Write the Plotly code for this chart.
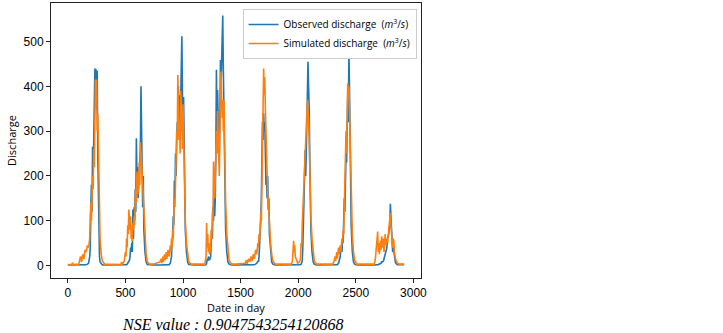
import plotly.graph_objects as go

# (day, observed, simulated)
days = [
    0, 35, 41, 47, 95, 100, 110, 120, 130, 140, 150, 160, 170, 180, 190, 195, 200, 205, 210, 215,
    220, 225, 230, 235, 240, 245, 250, 255, 260, 265, 270, 275, 280, 290, 300, 320,
    380, 460, 467, 472, 490, 500, 505, 510, 515, 520, 525, 530, 535, 540, 545, 550, 555, 560, 565,
    570, 575, 580, 585, 590, 595, 600, 605, 610, 615, 620, 625, 630, 635, 640, 645, 650, 655, 660,
    670, 680, 690, 710,
    740, 800, 810, 815, 825, 830, 840, 845, 855, 860, 870, 880, 890, 895, 900, 905, 910, 915, 920,
    925, 930, 935, 940, 945, 950, 955, 960, 965, 970, 975, 980, 985, 990, 995, 1000, 1005, 1010,
    1015, 1020, 1030, 1040, 1050, 1070,
    1100, 1190, 1200, 1205, 1210, 1215, 1220, 1225, 1230, 1240, 1245, 1250, 1255, 1260, 1265, 1270,
    1275, 1280, 1285, 1290, 1295, 1300, 1305, 1310, 1315, 1320, 1325, 1330, 1335, 1340, 1345, 1350,
    1355, 1360, 1365, 1370, 1380, 1390, 1400, 1420,
    1460, 1540, 1550, 1555, 1570, 1580, 1590, 1600, 1610, 1620, 1630, 1640, 1650, 1655, 1660, 1665,
    1670, 1675, 1680, 1685, 1690, 1695, 1700, 1705, 1710, 1715, 1720, 1725, 1730, 1735, 1740, 1745,
    1750, 1760, 1770, 1780, 1800,
    1830, 1940, 1950, 1960, 1965, 1970, 1975, 1985, 1995, 2010, 2020, 2025, 2030, 2035, 2040, 2045,
    2050, 2055, 2060, 2065, 2070, 2075, 2080, 2085, 2090, 2095, 2100, 2105, 2110, 2120, 2130, 2140,
    2160,
    2180, 2300, 2310, 2320, 2325, 2335, 2340, 2350, 2355, 2365, 2370, 2380, 2385, 2390, 2395, 2400,
    2405, 2410, 2415, 2420, 2425, 2430, 2435, 2440, 2445, 2450, 2455, 2460, 2470, 2480, 2490, 2510,
    2660, 2670, 2680, 2690, 2695, 2700, 2705, 2715, 2720, 2725, 2730, 2740, 2745, 2755, 2760, 2770,
    2775, 2785, 2795, 2800, 2805, 2810, 2815, 2820, 2825, 2830, 2835, 2845, 2860, 2880, 2920,
]

observed = [
    1, 1, 1, 1, 1, 1, 1, 1, 1, 1, 2, 2, 3, 5, 20, 40, 130, 180, 120, 265,
    200, 300, 270, 440, 400, 438, 347, 435, 250, 150, 60, 20, 8, 3, 1, 1,
    1, 1, 1, 1, 1, 2, 2, 2, 3, 5, 6, 10, 12, 20, 40, 30, 50, 30, 125,
    60, 130, 100, 170, 120, 284, 200, 220, 150, 180, 200, 210, 260, 400, 330, 260, 130, 200, 80,
    30, 8, 2, 1,
    1, 1, 1, 1, 1, 1, 1, 1, 1, 1, 2, 2, 5, 10, 20, 50, 60, 110, 90,
    190, 150, 250, 200, 273, 320, 300, 400, 330, 380, 300, 350, 400, 512, 380, 300, 376, 250,
    150, 80, 30, 8, 2, 1,
    1, 1, 2, 5, 15, 10, 20, 15, 12, 20, 40, 80, 60, 130, 100, 170,
    110, 150, 250, 437, 300, 392, 330, 300, 250, 320, 459, 400, 470, 520, 558, 440,
    350, 250, 150, 80, 30, 8, 3, 1,
    1, 1, 1, 1, 1, 1, 1, 1, 1, 2, 3, 5, 10, 8, 20, 40,
    60, 100, 150, 230, 321, 280, 340, 300, 320, 250, 180, 200, 150, 200, 124, 150,
    70, 25, 8, 3, 1,
    1, 1, 1, 1, 1, 1, 1, 1, 1, 1, 2, 3, 5, 10, 40, 80,
    120, 200, 258, 200, 250, 300, 350, 455, 400, 355, 250, 150, 80, 30, 8, 3,
    1,
    1, 1, 1, 1, 1, 2, 2, 5, 10, 20, 40, 30, 60, 50, 100, 150,
    120, 191, 250, 230, 300, 380, 320, 474, 400, 250, 180, 90, 30, 8, 3, 1,
    1, 1, 1, 2, 2, 3, 3, 5, 5, 8, 8, 10, 15, 20, 30, 40,
    60, 70, 90, 138, 110, 80, 40, 30, 40, 30, 15, 6, 2, 2, 2,
]

simulated = [
    2, 2, 6, 2, 3, 10, 20, 8, 25, 15, 35, 30, 45, 40, 60, 110, 140, 100, 150, 200,
    170, 260, 220, 330, 415, 380, 415, 300, 340, 280, 200, 120, 60, 25, 10, 3,
    2, 2, 8, 2, 10, 30, 20, 60, 40, 90, 70, 125, 100, 80, 110, 60, 90, 55, 95,
    80, 110, 90, 150, 170, 140, 210, 190, 160, 200, 230, 180, 275, 250, 230, 200, 170, 150, 110,
    60, 25, 8, 3,
    3, 8, 15, 5, 20, 8, 25, 12, 30, 15, 35, 20, 45, 30, 60, 40, 80, 60, 110,
    150, 130, 200, 250, 300, 280, 425, 350, 280, 320, 250, 390, 300, 340, 260, 360, 300, 200,
    150, 100, 50, 20, 8, 3,
    3, 3, 20, 95, 40, 70, 30, 50, 25, 40, 80, 60, 120, 100, 232, 180,
    150, 200, 260, 300, 250, 345, 290, 250, 200, 300, 350, 433, 370, 330, 370, 300,
    370, 280, 200, 140, 70, 30, 12, 3,
    3, 5, 12, 4, 15, 8, 20, 10, 25, 15, 35, 25, 50, 40, 70, 55,
    90, 117, 100, 180, 250, 300, 440, 380, 420, 350, 300, 220, 180, 160, 150, 120,
    90, 50, 25, 10, 3,
    3, 3, 10, 55, 30, 45, 20, 12, 5, 8, 15, 50, 40, 90, 120, 150,
    160, 200, 230, 270, 300, 330, 370, 340, 330, 280, 220, 160, 110, 60, 25, 10,
    3,
    3, 3, 8, 20, 10, 30, 15, 40, 25, 45, 30, 60, 50, 80, 70, 120,
    150, 200, 300, 250, 360, 407, 380, 400, 350, 300, 200, 140, 70, 30, 12, 3,
    3, 15, 40, 76, 30, 50, 25, 55, 35, 65, 40, 60, 30, 70, 45, 60,
    50, 80, 100, 117, 90, 70, 50, 40, 60, 55, 30, 15, 5, 3, 3,
]

x_ticks = [0, 500, 1000, 1500, 2000, 2500, 3000]
y_ticks = [0, 100, 200, 300, 400, 500]
nse_text = "NSE value : 0.9047543254120868"

fig = go.Figure()
fig.add_trace(go.Scatter(
    x=days, y=observed, mode="lines",
    name="Observed discharge  (<i>m</i><sup>3</sup>/<i>s</i>)",
    line=dict(color="#1f77b4", width=1.6),
))
fig.add_trace(go.Scatter(
    x=days, y=simulated, mode="lines",
    name="Simulated discharge  (<i>m</i><sup>3</sup>/<i>s</i>)",
    line=dict(color="#ff7f0e", width=1.6),
))

axis_common = dict(
    showline=True, linecolor="#222", linewidth=1, mirror=True,
    ticks="outside", ticklen=4, tickcolor="#222", tickwidth=1,
    showgrid=False, zeroline=False, automargin=False,
    tickfont=dict(family="Liberation Sans, Arial, sans-serif", size=12, color="#000"),
)

fig.update_layout(
    width=723, height=333,
    margin=dict(l=51, r=302, t=3, b=55),
    paper_bgcolor="white", plot_bgcolor="white",
    xaxis=dict(
        range=[-146, 3066], tickvals=x_ticks,
        title=dict(text="Date in day", standoff=0,
                   font=dict(family="Open Sans, sans-serif", size=11, color="#000")),
        **axis_common,
    ),
    yaxis=dict(
        range=[-27.9, 586], tickvals=y_ticks,
        title=dict(text="Discharge", standoff=4,
                   font=dict(family="Open Sans, sans-serif", size=11, color="#000")),
        **axis_common,
    ),
    legend=dict(
        x=0.988, y=0.978, xanchor="right", yanchor="top",
        bgcolor="white", bordercolor="#cccccc", borderwidth=1,
        font=dict(family="Open Sans, sans-serif", size=10, color="#000"),
        itemwidth=30, tracegroupgap=0,
    ),
    showlegend=True,
    annotations=[dict(
        text=nse_text, xref="paper", yref="paper", x=0.49, y=-0.168,
        xanchor="center", yanchor="middle", showarrow=False,
        font=dict(family="Liberation Serif, serif", size=16, color="#000", style="italic"),
    )],
)

fig.write_html(
    "out.html",
    config={"displayModeBar": False},
    post_script="document.body.style.margin='0';document.body.style.padding='0';",
)
